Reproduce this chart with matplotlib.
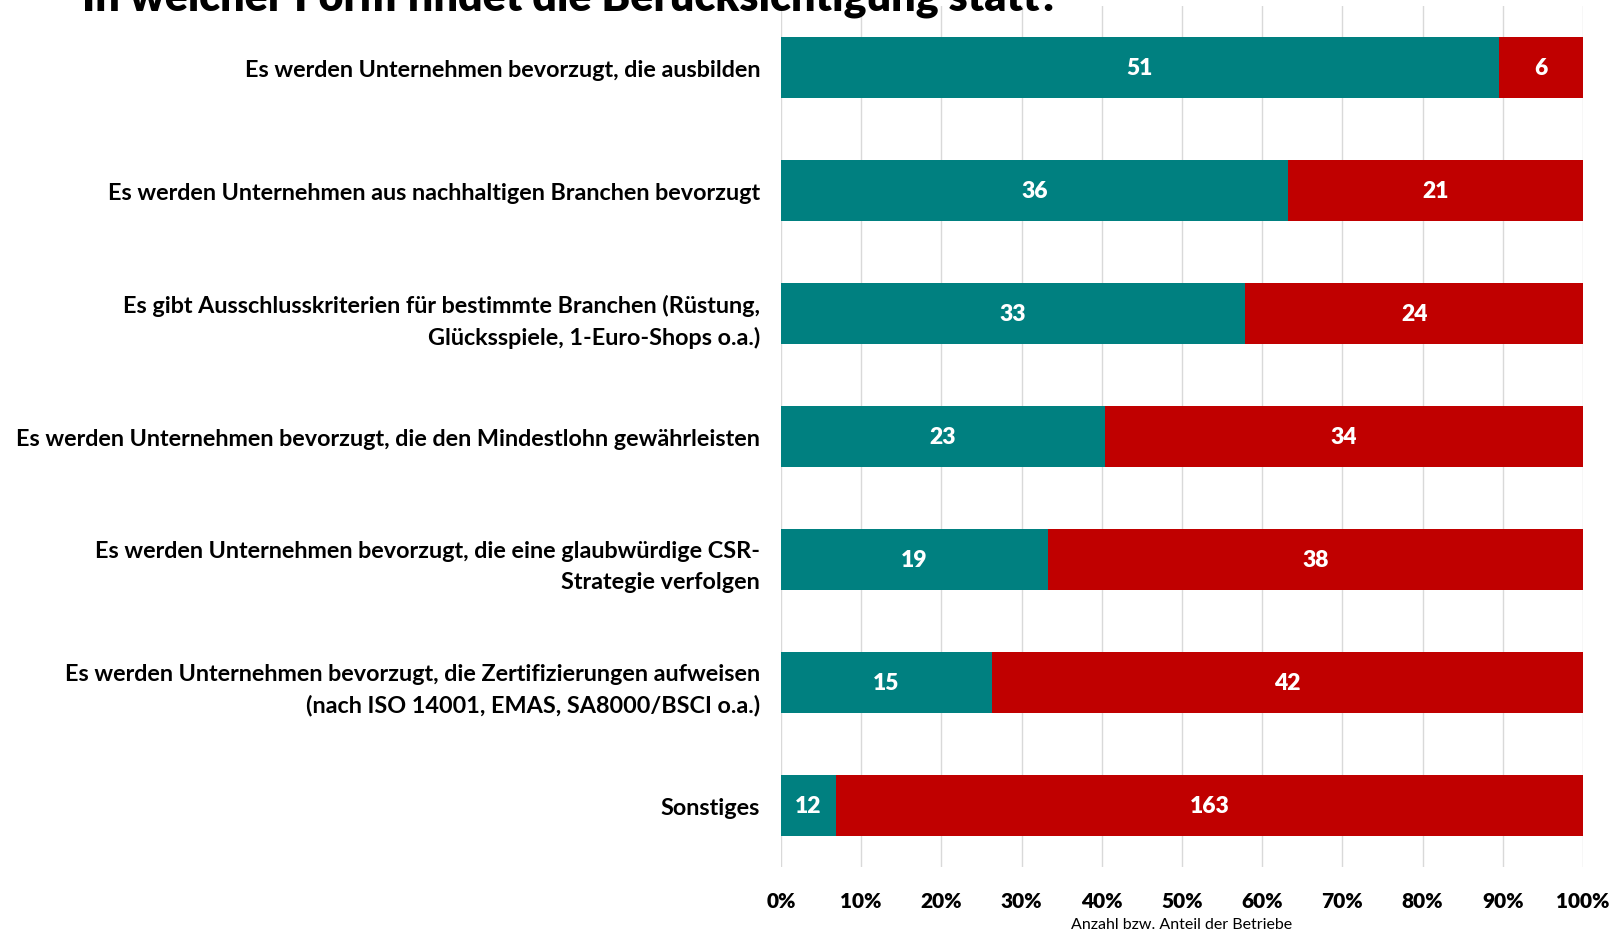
import matplotlib
matplotlib.use("Agg")
import matplotlib.pyplot as plt
import numpy as np

plt.rcParams['font.family'] = ['Lato', 'DejaVu Sans']

title = "In welcher Form findet die Berücksichtigung statt?"
categories = [
    "Es werden Unternehmen bevorzugt, die ausbilden",
    "Es werden Unternehmen aus nachhaltigen Branchen bevorzugt",
    "Es gibt Ausschlusskriterien für bestimmte Branchen (Rüstung,\nGlücksspiele, 1-Euro-Shops o.a.)",
    "Es werden Unternehmen bevorzugt, die den Mindestlohn gewährleisten",
    "Es werden Unternehmen bevorzugt, die eine glaubwürdige CSR-\nStrategie verfolgen",
    "Es werden Unternehmen bevorzugt, die Zertifizierungen aufweisen\n(nach ISO 14001, EMAS, SA8000/BSCI o.a.)",
    "Sonstiges",
]
ja = [51, 36, 33, 23, 19, 15, 12]
nein = [6, 21, 24, 34, 38, 42, 163]
xticklabels = ["0%", "10%", "20%", "30%", "40%", "50%", "60%", "70%", "80%", "90%", "100%"]
xlabel = "Anzahl bzw. Anteil der Betriebe"

teal = "#008080"
red = "#C00000"

W, H = 1612, 937
fig = plt.figure(figsize=(W / 100, H / 100), dpi=100)
ax = fig.add_axes([781 / W, 1 - 868 / H, (1583 - 781) / W, (868 - 7) / H])

ja_a = np.array(ja, dtype=float)
nein_a = np.array(nein, dtype=float)
tot = ja_a + nein_a
pj = ja_a / tot
pn = nein_a / tot
y = np.arange(len(categories))

ax.barh(y, pj, height=0.5, color=teal, zorder=3)
ax.barh(y, pn, left=pj, height=0.5, color=red, zorder=3)
for i in range(len(y)):
    ax.text(pj[i] / 2, y[i], str(ja[i]), ha='center', va='center', color='white',
            fontsize=16.5, fontweight='heavy', zorder=4)
    ax.text(pj[i] + pn[i] / 2, y[i], str(nein[i]), ha='center', va='center', color='white',
            fontsize=16.5, fontweight='heavy', zorder=4)

ax.set_ylim(len(categories) - 0.5, -0.5)
ax.set_xlim(0, 1)
ax.set_yticks(y)
ax.set_yticklabels(categories, fontsize=16.8, fontweight='bold', linespacing=1.55)
ax.set_xticks(np.linspace(0, 1, 11))
ax.set_xticklabels(xticklabels, fontsize=15, fontweight='heavy')
ax.tick_params(axis='y', length=0, pad=15)
ax.tick_params(axis='x', length=0, pad=17)
ax.xaxis.grid(True, color='#D9D9D9', linewidth=1, zorder=0)
for s in ax.spines.values():
    s.set_visible(False)
ax.set_xlabel(xlabel, fontsize=11.5, labelpad=5)

fig.text(82 / W, 1 - 10 / H, title, fontsize=31, fontweight='heavy', ha='left', va='baseline')

fig.savefig("out.png", dpi=100)
